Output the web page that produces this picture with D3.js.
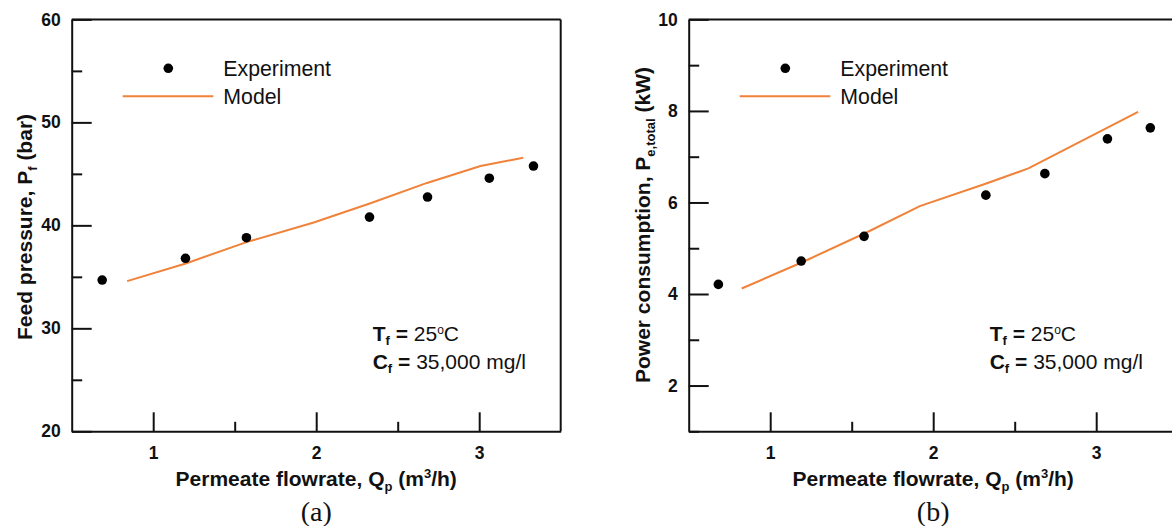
<!DOCTYPE html>
<html><head><meta charset="utf-8">
<script src="https://cdn.jsdelivr.net/npm/d3@7"></script>
<style>
body{margin:0;background:#fff;}
svg{display:block;font-family:Arial,"Liberation Sans",sans-serif;}
</style></head>
<body><svg id="c" width="1172" height="526"></svg>
<script>
// ---- data ----
const expQ_a = [0.687, 1.198, 1.572, 2.327, 2.683, 3.062, 3.333];
const expP_a = [34.69, 36.8, 38.8, 40.8, 42.75, 44.58, 45.76];
const modQ_a = [0.84, 1.2, 1.568, 1.985, 2.333, 2.68, 3.008, 3.27];
const modP_a = [34.58, 36.3, 38.35, 40.27, 42.15, 44.12, 45.76, 46.56];

const expQ_b = [0.682, 1.19, 1.576, 2.323, 2.685, 3.069, 3.332];
const expP_b = [4.21, 4.72, 5.26, 6.16, 6.63, 7.39, 7.63];
const modQ_b = [0.825, 1.2, 1.6, 1.918, 2.33, 2.584, 3.257];
const modP_b = [4.12, 4.7, 5.36, 5.92, 6.42, 6.744, 7.98];

const xTicks = [1, 2, 3];
const xMinor = [1.5, 2.5];
const yTicks_a = [20, 30, 40, 50, 60];
const yMinor_a = [25, 35, 45, 55];
const yTicks_b = [2, 4, 6, 8, 10];
const yMinor_b = [1, 3, 5, 7, 9];

const ORANGE = "#f0823a";
const svg = d3.select("#c");

function panel(o) {
  const g = svg.append("g");
  const x = d3.scaleLinear().domain([0.5, 3.5]).range([o.x0, o.x0 + 489]);
  const y = d3.scaleLinear().domain(o.ydom).range([431.3, 19.4]);

  // frame top & right
  g.append("line").attr("x1", o.x0).attr("x2", x(3.5)).attr("y1", y.range()[1]).attr("y2", y.range()[1])
    .attr("stroke", "#111").attr("stroke-width", 2);
  g.append("line").attr("x1", x(3.5)).attr("x2", x(3.5)).attr("y1", y.range()[1]).attr("y2", 431.3)
    .attr("stroke", "#111").attr("stroke-width", 2);

  // minor ticks
  g.append("g").attr("transform", `translate(0,431.3)`)
    .call(d3.axisBottom(x).tickValues(xMinor).tickSize(-9.5).tickSizeOuter(0).tickFormat(""))
    .call(s => s.select(".domain").remove());
  g.append("g").attr("transform", `translate(${o.x0},0)`)
    .call(d3.axisLeft(y).tickValues(o.yMinor).tickSize(-10.5).tickSizeOuter(0).tickFormat(""))
    .call(s => s.select(".domain").remove());
  // major
  const xa = g.append("g").attr("transform", `translate(0,431.3)`)
    .call(d3.axisBottom(x).tickValues(xTicks).tickSize(-19).tickSizeOuter(0).tickPadding(15).tickFormat(d3.format("d")));
  const ya = g.append("g").attr("transform", `translate(${o.x0},0)`)
    .call(d3.axisLeft(y).tickValues(o.yTicks).tickSize(-20).tickSizeOuter(0).tickPadding(11).tickFormat(d3.format("d")));
  g.selectAll(".tick line").attr("stroke", "#111").attr("stroke-width", 2);
  [xa, ya].forEach(a => {
    a.select(".domain").attr("stroke", "#111").attr("stroke-width", 2);
    a.selectAll("text").attr("font-size", 17.5).attr("font-weight", "bold").attr("fill", "#111")
      .attr("font-family", "Arial, 'Liberation Sans', sans-serif");
  });

  // model line
  const line = d3.line().x(d => x(d[0])).y(d => y(d[1]));
  g.append("path").datum(o.modQ.map((q, i) => [q, o.modP[i]]))
    .attr("d", line).attr("fill", "none").attr("stroke", ORANGE).attr("stroke-width", 2);

  // experiment points
  g.selectAll("circle.e").data(o.expQ.map((q, i) => [q, o.expP[i]])).join("circle")
    .attr("class", "e").attr("cx", d => x(d[0])).attr("cy", d => y(d[1])).attr("r", 4.8).attr("fill", "#000");

  // legend
  const lx = o.x0;
  g.append("circle").attr("cx", lx + 96.6).attr("cy", 68.3).attr("r", 4.8).attr("fill", "#000");
  g.append("text").attr("x", lx + 151.6).attr("y", 75.8).attr("font-size", 21.3).attr("fill", "#111").text("Experiment");
  g.append("line").attr("x1", lx + 51).attr("x2", lx + 141.6).attr("y1", 96.3).attr("y2", 96.3)
    .attr("stroke", ORANGE).attr("stroke-width", 2);
  g.append("text").attr("x", lx + 151.6).attr("y", 103.5).attr("font-size", 21.3).attr("fill", "#111").text("Model");

  // annotation
  const ax = o.x0 + 301;
  const t1 = g.append("text").attr("x", ax).attr("y", 341).attr("font-size", 21).attr("fill", "#111");
  t1.append("tspan").attr("font-weight", "bold").text("T");
  t1.append("tspan").attr("font-weight", "bold").attr("font-size", 13).attr("dy", 4).text("f");
  t1.append("tspan").attr("font-weight", "bold").attr("dy", -4).text(" = ");
  t1.append("tspan").text("25");
  t1.append("tspan").attr("font-size", 12).attr("dy", -7).text("o");
  t1.append("tspan").attr("dy", 7).text("C");
  const t2 = g.append("text").attr("x", ax).attr("y", 368.5).attr("font-size", 21).attr("fill", "#111");
  t2.append("tspan").attr("font-weight", "bold").text("C");
  t2.append("tspan").attr("font-weight", "bold").attr("font-size", 13).attr("dy", 4).text("f");
  t2.append("tspan").attr("font-weight", "bold").attr("dy", -4).text(" = ");
  t2.append("tspan").text("35,000 mg/l");

  // x label
  const xl = g.append("text").attr("x", x(2)).attr("y", 485.5).attr("text-anchor", "middle")
    .attr("font-size", 21).attr("font-weight", "bold").attr("fill", "#111");
  xl.append("tspan").text("Permeate flowrate, Q");
  xl.append("tspan").attr("font-size", 13).attr("dy", 5).text("p");
  xl.append("tspan").attr("dy", -5).text(" (m");
  xl.append("tspan").attr("font-size", 13).attr("dy", -8).text("3");
  xl.append("tspan").attr("dy", 8).text("/h)");

  // y label
  const yl = g.append("text").attr("transform", `translate(${o.ylx},${o.yly}) rotate(-90)`)
    .attr("text-anchor", "middle").attr("font-size", 21).attr("font-weight", "bold").attr("fill", "#111");
  yl.append("tspan").text(o.ylab[0]);
  yl.append("tspan").attr("font-size", 13).attr("dy", 5).text(o.ylab[1]);
  yl.append("tspan").attr("dy", -5).text(o.ylab[2]);

  // caption
  svg.append("text").attr("x", x(2)).attr("y", 521).attr("text-anchor", "middle")
    .attr("font-family", "'Liberation Serif','Times New Roman',serif").attr("font-size", 28).attr("fill", "#111")
    .text(o.cap);
}

panel({x0: 71.7, ydom: [20, 60], yTicks: yTicks_a, yMinor: yMinor_a,
  expQ: expQ_a, expP: expP_a, modQ: modQ_a, modP: modP_a,
  ylab: ["Feed pressure, P", "f", " (bar)"], ylx: 32, yly: 227, cap: "(a)"});
panel({x0: 688.7, ydom: [1, 10], yTicks: yTicks_b, yMinor: yMinor_b,
  expQ: expQ_b, expP: expP_b, modQ: modQ_b, modP: modP_b,
  ylab: ["Power consumption, P", "e,total", " (kW)"], ylx: 650, yly: 225, cap: "(b)"});
</script></body></html>
